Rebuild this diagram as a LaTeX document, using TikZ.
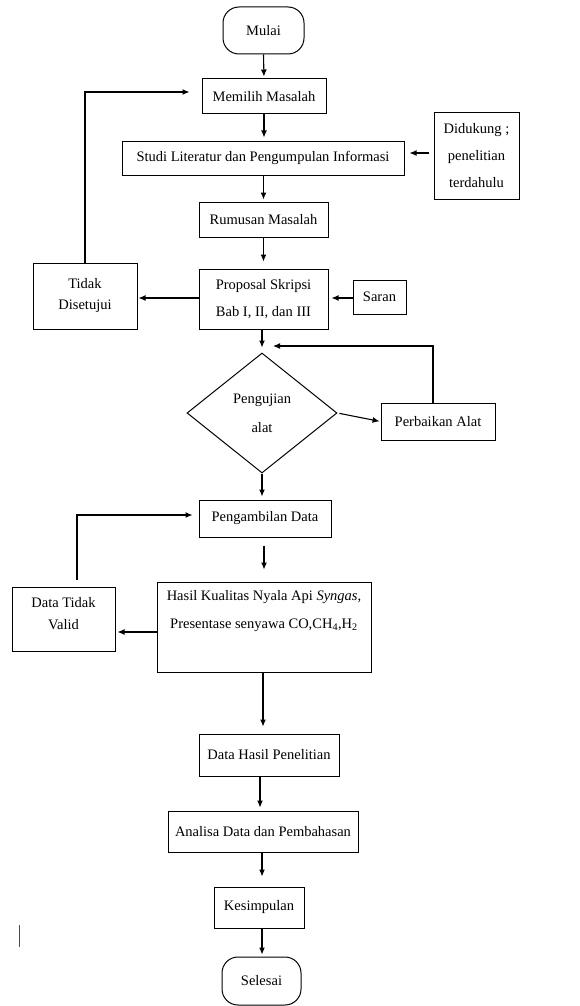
\documentclass[tikz,border=0pt]{standalone}
\usepackage{fontspec}
\setmainfont{Liberation Serif}
\usetikzlibrary{shapes.geometric,arrows.meta}
\begin{document}
\begin{tikzpicture}[x=1pt,y=-1pt,
  box/.style={draw, line width=1pt, align=center, inner sep=1pt},
  term/.style={box, rounded corners=16pt},
  arr/.style={line width=1.1pt, -{Latex[length=7pt,width=6pt]}},
  every node/.style={font=\fontsize{14.5}{27}\selectfont}]
\useasboundingbox (0,0) rectangle (580,1006);

\node[term, minimum width=81pt, minimum height=47pt] (mulai) at (263.5,30.5) {Mulai};
\node[box, minimum width=124pt, minimum height=35pt] (memilih) at (264,96.5) {Memilih Masalah};
\node[box, minimum width=282pt, minimum height=34pt] (studi) at (263,158) {Studi Literatur dan Pengumpulan Informasi};
\node[box, minimum width=85pt, minimum height=86pt] (didukung) at (476.5,156) {Didukung ;\\penelitian\\terdahulu};
\node[box, minimum width=129pt, minimum height=35pt] (rumusan) at (263.5,219.5) {Rumusan Masalah};
\node[box, minimum width=129pt, minimum height=60pt] (proposal) at (263.5,299) {Proposal Skripsi\\Bab I, II, dan III};
\node[box, minimum width=104pt, minimum height=66pt, font=\fontsize{14.5}{23}\selectfont] (tidak) at (85,296) {Tidak\\[-2pt]Disetujui};
\node[box, minimum width=53pt, minimum height=34pt] (saran) at (379.5,297) {Saran};
\node[draw, line width=1pt, diamond, aspect=1.25, inner sep=0pt, minimum width=150pt, minimum height=120pt, align=center, font=\fontsize{14.5}{29}\selectfont] (uji) at (262,413) {Pengujian\\alat};
\node[box, minimum width=114pt, minimum height=37pt] (perbaikan) at (438,421.5) {Perbaikan Alat};
\node[box, minimum width=132pt, minimum height=37pt] (ambil) at (265,518.5) {Pengambilan Data};
\node[box, inner sep=0pt, minimum width=214pt, minimum height=90pt] (hasil) at (264,627)
  {\parbox[c][88pt][t]{212pt}{\centering\fontsize{14.5}{28}\selectfont\vspace*{7pt}Hasil Kualitas Nyala Api \textit{Syngas},\\Presentase senyawa CO,CH\textsubscript{4},H\textsubscript{2}}};
\node[box, inner sep=0pt, minimum width=103pt, minimum height=64pt] (valid) at (63.5,619)
  {\parbox[c][62pt][t]{100pt}{\centering\fontsize{14.5}{22}\selectfont\vspace*{9pt}Data Tidak\\Valid}};
\node[box, minimum width=140pt, minimum height=42pt] (datahasil) at (269,755) {Data Hasil Penelitian};
\node[box, minimum width=190pt, minimum height=41pt] (analisa) at (263,831.5) {Analisa Data dan Pembahasan};
\node[box, minimum width=90pt, minimum height=41pt] (simpul) at (259,907.5) {Kesimpulan};
\node[term, minimum width=79pt, minimum height=48pt] (selesai) at (261.5,981) {Selesai};

\coordinate (fbuji) at (273,346);
\coordinate (cursorA) at (19,925);
\coordinate (cursorB) at (19,947);

\draw[arr, shorten >=2pt] (mulai.south) -- (memilih.north);
\draw[arr, shorten >=3pt] (memilih.south) -- (memilih.south |- studi.north);
\draw[arr, shorten <=5pt, shorten >=5pt] (didukung.west |- 0,153) -- (studi.east |- 0,153);
\draw[arr, shorten >=2pt] (studi.south -| rumusan.north) -- (rumusan.north);
\draw[arr, shorten >=7pt] (rumusan.south) -- (proposal.north);
\draw[arr, shorten >=1pt] (proposal.west |- 0,298) -- (tidak.east |- 0,298);
\draw[arr, shorten >=3pt] (saran.west |- 0,298) -- (proposal.east |- 0,298);
\draw[arr, shorten >=5pt] (proposal.south -| uji.north) -- (uji.north);
\draw[arr, shorten >=12pt] (tidak.north) -- (tidak.north |- 0,92) -- (memilih.west |- 0,92);
\draw[arr, shorten <=2pt, shorten >=1pt] (uji.east) -- (perbaikan.west);
\draw[arr] ([xshift=-5pt]perbaikan.north) |- (fbuji);
\draw[arr, shorten >=3pt] (uji.south) -- (uji.south |- ambil.north);
\draw[arr, shorten <=8pt, shorten >=12pt] (ambil.south -| hasil.north) -- (hasil.north);
\draw[arr, shorten >=2pt] (hasil.west |- 0,632) -- (valid.east |- 0,632);
\draw[arr, shorten >=6pt] ([xshift=13.5pt,yshift=7pt]valid.north) -- ([xshift=13.5pt]valid.north |- 0,515) -- (ambil.west |- 0,515);
\draw[arr, shorten >=7pt] (hasil.south -| 263,0) -- (datahasil.north -| 263,0);
\draw[arr, shorten >=3pt] (datahasil.south -| 260,0) -- (analisa.north -| 260,0);
\draw[arr, shorten >=10pt] (analisa.south -| 262,0) -- (simpul.north -| 262,0);
\draw[arr, shorten >=2pt] (simpul.south -| 262,0) -- (selesai.north -| 262,0);
\draw[line width=0.8pt, black!70] (cursorA) -- (cursorB);
\end{tikzpicture}
\end{document}
